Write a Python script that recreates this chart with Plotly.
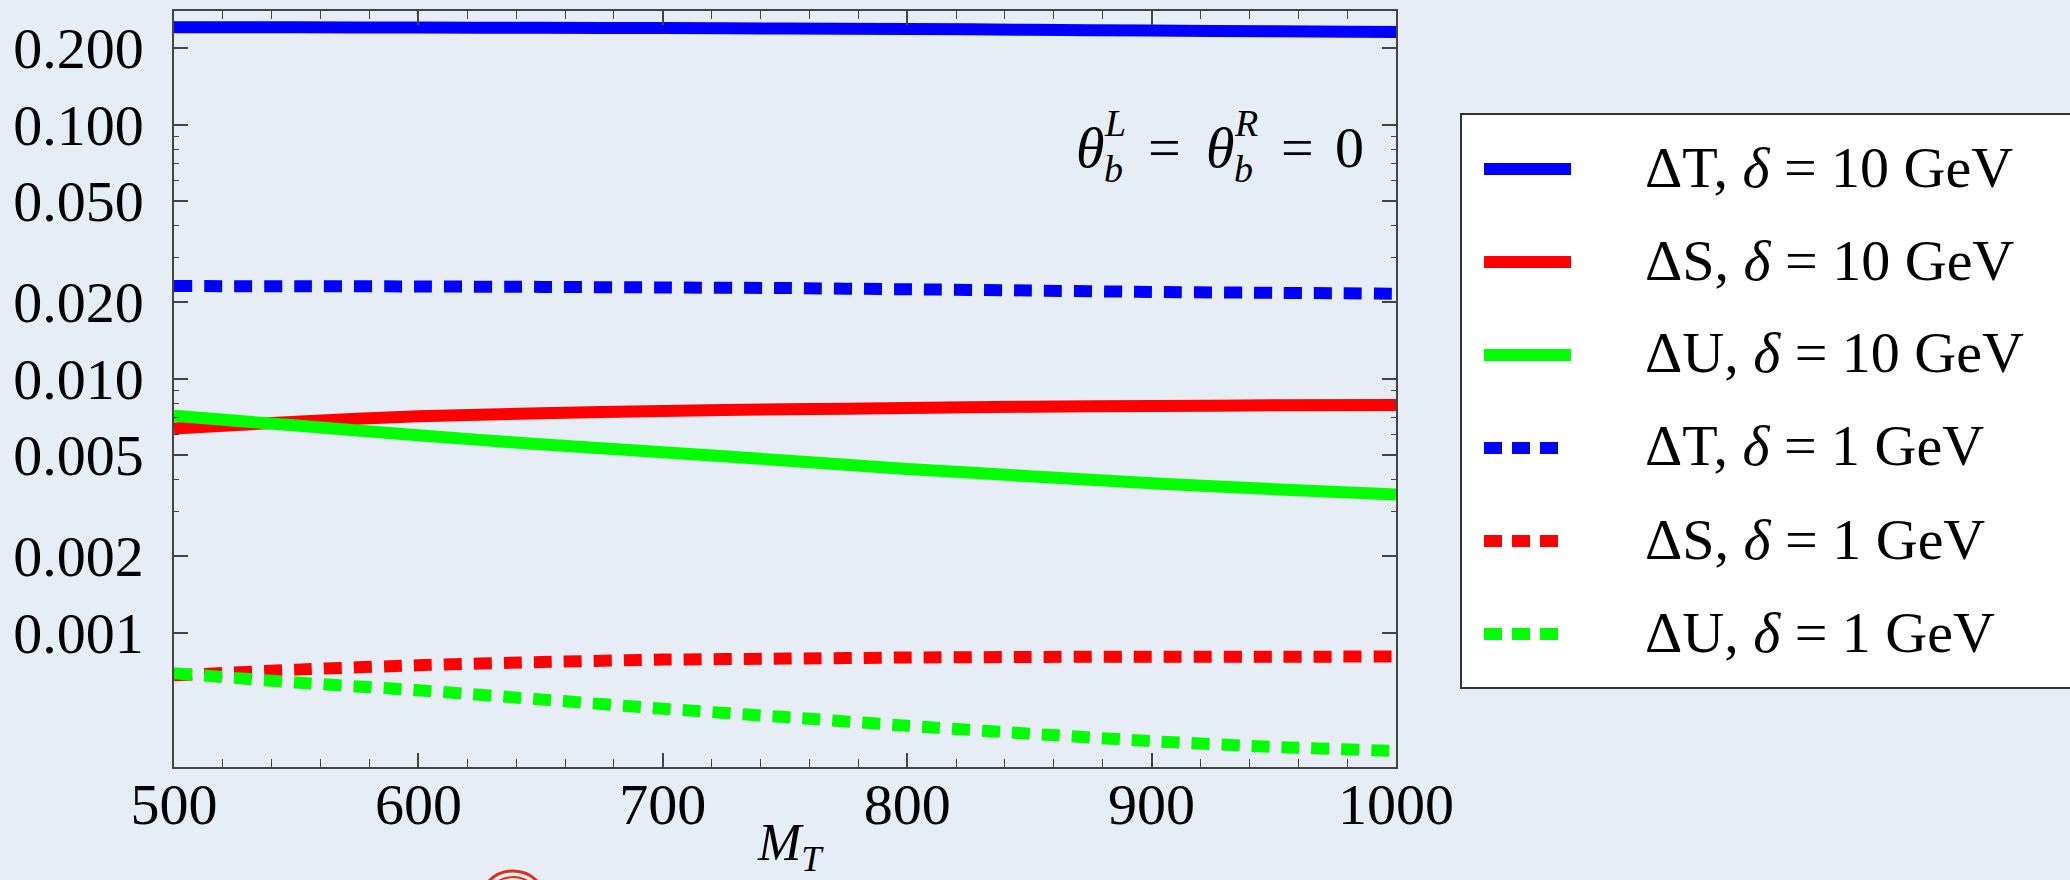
import plotly.graph_objects as go

# ---------------- data ----------------
M_T = [500, 550, 600, 650, 700, 750, 800, 850, 900, 950, 1000]
dT_10 = [0.2415, 0.2413, 0.2408, 0.2403, 0.2398, 0.2389, 0.2379, 0.2362, 0.2344, 0.2328, 0.2312]
dS_10 = [0.00636, 0.00676, 0.00711, 0.00730, 0.00746, 0.00757, 0.00766, 0.00775, 0.00780, 0.00785, 0.00787]
dU_10 = [0.00714, 0.00653, 0.00598, 0.00551, 0.00513, 0.00476, 0.00441, 0.00413, 0.00387, 0.00367, 0.00350]
dT_1 = [0.02313, 0.02310, 0.02305, 0.02296, 0.02284, 0.02272, 0.02247, 0.02222, 0.02193, 0.02176, 0.02158]
dS_1 = [0.000679, 0.000715, 0.000744, 0.000766, 0.000783, 0.000790, 0.000798, 0.000802, 0.000804, 0.000804, 0.000805]
dU_1 = [0.000692, 0.000636, 0.000593, 0.000546, 0.000502, 0.000465, 0.000430, 0.000400, 0.000374, 0.000355, 0.000342]

x_ticks = [500, 600, 700, 800, 900, 1000]
y_ticks = [0.001, 0.002, 0.005, 0.01, 0.02, 0.05, 0.1, 0.2]
y_ticktext = ["0.001", "0.002", "0.005", "0.010", "0.020", "0.050", "0.100", "0.200"]
y_minor = [0.003, 0.004, 0.006, 0.007, 0.008, 0.009, 0.03, 0.04, 0.06, 0.07, 0.08, 0.09]

series_names = ["ΔT, <i>δ</i> = 10 GeV", "ΔS, <i>δ</i> = 10 GeV", "ΔU, <i>δ</i> = 10 GeV",
                "ΔT, <i>δ</i> = 1 GeV", "ΔS, <i>δ</i> = 1 GeV", "ΔU, <i>δ</i> = 1 GeV"]
series_values = [dT_10, dS_10, dU_10, dT_1, dS_1, dU_1]

# ---------------- styles ----------------
colors = ["#0000FF", "#FF0000", "#00FF00", "#0000FF", "#FF0000", "#00FF00"]
dashes = ["solid", "solid", "solid", "18px,12px", "18px,12px", "18px,12px"]
legend_dashes = ["solid", "solid", "solid", "18px,10px", "18px,10px", "18px,10px"]
LW = 12
FONT = "Liberation Serif"
BG = "#E6EDF5"
AX = "#444444"

W, H = 2070, 880
L, R, T, B = 174, 674, 11, 113
PW, PH = W - L - R, H - T - B


def px(xp):
    return (xp - L) / PW


def py(yp):
    return (H - B - yp) / PH


fig = go.Figure()
for name, vals, c, d in zip(series_names, series_values, colors, dashes):
    fig.add_trace(go.Scatter(x=M_T, y=vals, mode="lines", name=name,
                             line=dict(color=c, width=LW, dash=d, shape="spline", smoothing=0.6),
                             showlegend=False))

shapes = []
annotations = []

# legend box
shapes.append(dict(type="rect", xref="paper", yref="paper",
                   x0=px(1461), x1=px(2080), y0=py(688), y1=py(114),
                   line=dict(color="#333333", width=2), fillcolor="white", layer="above"))
row_y = [169, 262, 355, 448, 541, 634]
for i, (name, c, d) in enumerate(zip(series_names, colors, legend_dashes)):
    x_end = 1571 if d == "solid" else 1558
    shapes.append(dict(type="line", xref="paper", yref="paper",
                       x0=px(1484), x1=px(x_end), y0=py(row_y[i]), y1=py(row_y[i]),
                       line=dict(color=c, width=LW, dash=d), layer="above"))
    annotations.append(dict(xref="paper", yref="paper", x=px(1643), y=py(row_y[i] - 2),
                            xanchor="left", yanchor="middle", showarrow=False,
                            text=name, font=dict(family=FONT, size=58, color="black")))

# theta annotation built from pieces (superscript above, subscript below)
theta_main = [("<i>θ</i>", 1074), ("=", 1146), ("<i>θ</i>", 1204), ("=", 1279), ("0", 1333)]
for txt, xx in theta_main:
    annotations.append(dict(xref="paper", yref="paper", x=px(xx), y=py(147),
                            xanchor="left", yanchor="middle", showarrow=False,
                            text=txt, font=dict(family=FONT, size=58, color="black")))
theta_sup = [("<i>L</i>", 1102), ("<i>R</i>", 1232)]
for txt, xx in theta_sup:
    annotations.append(dict(xref="paper", yref="paper", x=px(xx), y=py(146),
                            xanchor="left", yanchor="bottom", showarrow=False,
                            text=txt, font=dict(family=FONT, size=38, color="black")))
theta_sub = [("<i>b</i>", 1102), ("<i>b</i>", 1232)]
for txt, xx in theta_sub:
    annotations.append(dict(xref="paper", yref="paper", x=px(xx), y=py(146),
                            xanchor="left", yanchor="top", showarrow=False,
                            text=txt, font=dict(family=FONT, size=38, color="black")))

# x-axis title
annotations.append(dict(xref="paper", yref="paper", x=px(790), y=py(812),
                        xanchor="center", yanchor="top", showarrow=False,
                        text="<i>M</i><sub><i>T</i></sub>",
                        font=dict(family=FONT, size=52, color="black")))

# partial red seal at the bottom edge
shapes.append(dict(type="circle", xref="paper", yref="paper",
                   x0=px(479), x1=px(547), y0=py(939), y1=py(871),
                   line=dict(color="#E03010", width=3)))
shapes.append(dict(type="circle", xref="paper", yref="paper",
                   x0=px(485), x1=px(541), y0=py(933), y1=py(877),
                   line=dict(color="#E03010", width=2)))

fig.update_layout(
    width=W, height=H,
    margin=dict(l=L, r=R, t=T, b=B, autoexpand=False),
    paper_bgcolor=BG, plot_bgcolor=BG,
    font=dict(family=FONT, color="black"),
    shapes=shapes, annotations=annotations,
    showlegend=False,
)
fig.update_xaxes(
    range=[500, 1000], tickmode="array", tickvals=x_ticks, automargin=False,
    ticks="inside", ticklen=14, tickwidth=1.5, tickcolor=AX,
    showline=True, linecolor=AX, linewidth=1.5, mirror="ticks",
    showgrid=False, zeroline=False,
    minor=dict(ticks="inside", ticklen=8, tickwidth=1.2, tickcolor=AX, dtick=20, tick0=500, showgrid=False),
    tickfont=dict(family=FONT, size=58, color="black"),
    ticklabelstandoff=-14,
)
fig.update_yaxes(
    type="log", range=[-3.529, -0.553], tickmode="array", tickvals=y_ticks, ticktext=y_ticktext,
    automargin=False,
    ticks="inside", ticklen=14, tickwidth=1.5, tickcolor=AX,
    showline=True, linecolor=AX, linewidth=1.5, mirror="ticks",
    showgrid=False, zeroline=False,
    minor=dict(ticks="inside", ticklen=5, tickwidth=1.2, tickcolor=AX, tickmode="array", tickvals=y_minor, showgrid=False),
    tickfont=dict(family=FONT, size=58, color="black"),
    ticklabelstandoff=17,
)

fig.write_html(
    "out.html",
    config={"displayModeBar": False},
    post_script="document.body.style.margin='0';document.body.style.background='" + BG + "';"
                "document.body.style.overflow='hidden';",
)
